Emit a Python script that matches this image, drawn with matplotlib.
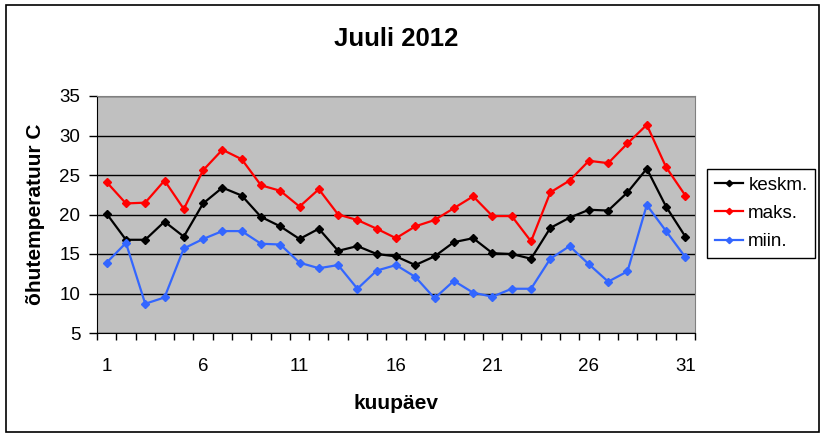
import numpy as np
import matplotlib
matplotlib.use("Agg")
import matplotlib.pyplot as plt
from matplotlib.patches import Rectangle

plt.rcParams['font.family'] = ['Liberation Sans', 'DejaVu Sans']

# July 2012 daily air temperatures
days = list(range(1, 32))
keskm = [20.1, 16.8, 16.8, 19.1, 17.2, 21.4, 23.4, 22.4, 19.7, 18.5,
         16.9, 18.2, 15.4, 16.0, 15.0, 14.7, 13.6, 14.7, 16.5, 17.0,
         15.1, 15.0, 14.4, 18.3, 19.6, 20.6, 20.5, 22.8, 25.8, 21.0, 17.2]
maks = [24.1, 21.4, 21.5, 24.3, 20.7, 25.6, 28.2, 27.0, 23.7, 23.0,
        21.0, 23.2, 20.0, 19.3, 18.2, 17.0, 18.5, 19.3, 20.8, 22.3,
        19.8, 19.8, 16.6, 22.8, 24.3, 26.8, 26.5, 29.0, 31.35, 26.0, 22.4]
miin = [13.9, 16.4, 8.7, 9.5, 15.7, 16.9, 17.9, 17.9, 16.3, 16.2,
        13.9, 13.2, 13.6, 10.6, 12.9, 13.6, 12.1, 9.4, 11.6, 10.1,
        9.6, 10.6, 10.6, 14.4, 16.0, 13.7, 11.5, 12.8, 21.2, 17.9, 14.6]
xticks = [1, 6, 11, 16, 21, 26, 31]
yticks = [5, 10, 15, 20, 25, 30, 35]

fig = plt.figure(figsize=(8.25, 4.37), dpi=100)
ax = fig.add_axes([97/825, 1-333/437, 598/825, 237/437])
ax.set_facecolor('#C0C0C0')

ax.plot(days, keskm, color='black', marker='D', markersize=4, lw=1.6, label='keskm.')
ax.plot(days, maks, color='#FF0000', marker='D', markersize=4, lw=1.6, label='maks.')
ax.plot(days, miin, color='#3366FF', marker='D', markersize=4, lw=1.6, label='miin.')

ax.set_xlim(0.5, 31.5)
ax.set_ylim(5, 35)
ax.set_yticks(yticks)
ax.set_xticks(xticks)
ax.set_xticks(np.arange(0.5, 32, 1), minor=True)
ax.tick_params(axis='x', which='major', length=0, labelsize=13.5, pad=18)
ax.tick_params(axis='x', which='minor', length=5, width=1, direction='out')
ax.tick_params(axis='y', length=6, width=1, labelsize=13.5, pad=6)
ax.grid(axis='y', color='black', lw=1)
ax.set_axisbelow(True)

for s in ['top', 'right']:
    ax.spines[s].set_color('#808080')
ax.spines['left'].set_color('black')
ax.spines['bottom'].set_color('black')

ax.set_title('Juuli 2012', fontsize=18.5, fontweight='bold', pad=36)
ax.set_xlabel('kuupäev', fontsize=15, fontweight='bold', labelpad=14)
ax.set_ylabel('õhutemperatuur C', fontsize=15, fontweight='bold', labelpad=10)

leg = ax.legend(loc='upper left', bbox_to_anchor=(707/825, 1-169/437),
                bbox_transform=fig.transFigure, fontsize=13.5,
                frameon=True, fancybox=False, edgecolor='black', framealpha=1,
                handlelength=1.5, handletextpad=0.3, borderaxespad=0, borderpad=0.4,
                labelspacing=0.6, markerscale=0.8)
leg.get_frame().set_linewidth(1)

fig.patches.append(Rectangle((6/825, 1-432/437), 813/825, 427/437, transform=fig.transFigure,
                             fill=False, edgecolor='black', lw=1.2))

fig.savefig('out.png', dpi=100)
